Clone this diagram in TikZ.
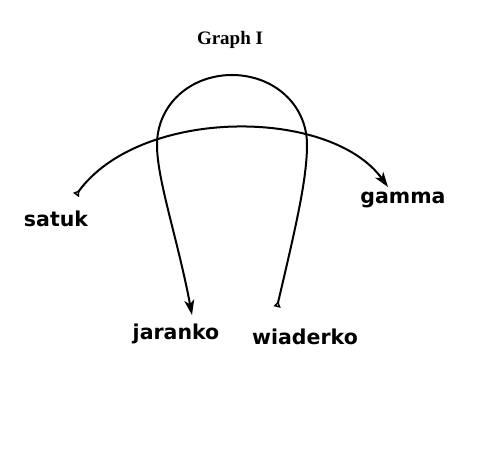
\documentclass[tikz,border=0pt]{standalone}
\usepackage{fontspec}
\newfontfamily\labfont{DejaVu Sans}[BoldFont={DejaVu Sans Bold}]
\newfontfamily\titfont{Liberation Serif}
\usetikzlibrary{arrows.meta}
\tikzset{
  lab/.style={font=\labfont\bfseries\fontsize{20.5}{22}\selectfont, inner sep=0pt, anchor=center},
  conn/.style={line width=2pt, {Triangle[open, reversed, length=6pt, width=7pt, line width=1.5pt]}-{Stealth[length=15pt, width=10pt, inset=4pt]}},
}
\begin{document}
\begin{tikzpicture}[x=1pt, y=-1pt]
\useasboundingbox (0,0) rectangle (492,452);
\node[font=\titfont\bfseries\fontsize{19}{21}\selectfont, inner sep=0pt] (title) at (230,40) {Graph I};
\node[lab] (satuk) at (56,219) {satuk};
\node[lab] (gamma) at (403,200) {gamma};
\node[lab] (jaranko) at (176,334) {jaranko};
\node[lab] (wiaderko) at (305,337) {wiaderko};
\coordinate (s1) at (76,195);
\coordinate (g1) at (388,187);
\coordinate (w1) at (277,307);
\coordinate (j1) at (192,315);
\draw[conn] (s1) .. controls (140,107) and (330,107) .. (g1);
\draw[conn] (w1) .. controls (295,230) and (307,180) .. (307,145)
  .. controls (307,104) and (273,75) .. (232,75)
  .. controls (191,75) and (157,104) .. (157,145)
  .. controls (157,180) and (178,240) .. (j1);
\end{tikzpicture}
\end{document}
